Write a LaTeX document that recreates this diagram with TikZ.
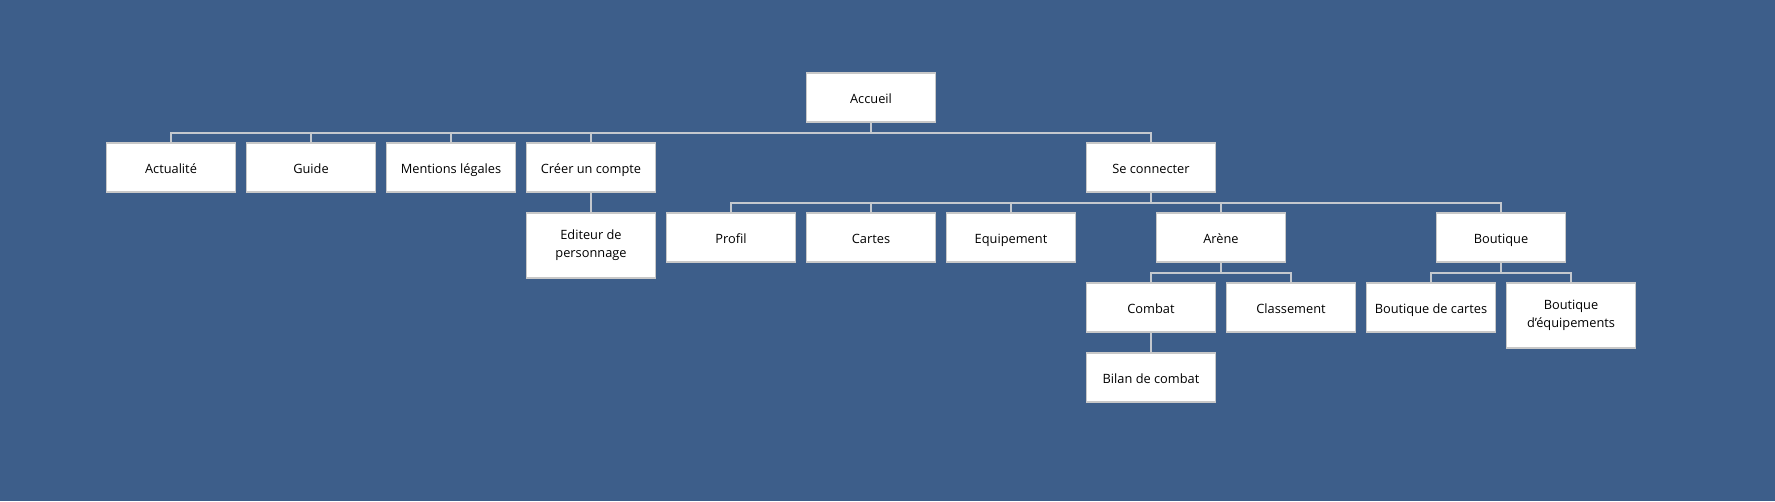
\documentclass[tikz,border=0pt]{standalone}
\usepackage{fontspec}
\setmainfont{Open Sans}
\usetikzlibrary{shadows}
\definecolor{bg}{HTML}{3D5E8A}
\definecolor{ln}{HTML}{C4C8CE}
\definecolor{bd}{HTML}{C8C8C8}
\newcommand{\mystrut}{\rule[-3.2pt]{0pt}{14.8pt}}
\newcommand{\mytallstrut}{\rule{0pt}{12.5pt}}
\tikzset{
  page/.style={draw=bd, line width=0.9pt, fill=white, minimum width=129*0.75pt, minimum height=49*0.75pt,
    inner sep=0pt, align=center, font=\fontsize{9.6pt}{15pt}\selectfont, text=black,
    execute at begin node=\mystrut,
    drop shadow={shadow xshift=0.6pt, shadow yshift=-1pt, opacity=0.25, fill=black}},
  tallpage/.style={page, minimum height=65*0.75pt, execute at begin node=\mytallstrut,
    font=\fontsize{9.6pt}{13.5pt}\selectfont},
  conn/.style={draw=ln, line width=0.8pt}
}
\begin{document}
\begin{tikzpicture}[x=0.75pt,y=-0.75pt]
\fill[bg] (0,0) rectangle (1775,501);
\useasboundingbox (0,0) rectangle (1775,501);
% row 1
\node[page] (acc) at (871,97.5) {Accueil};
% row 2
\node[page] (act) at (171,167.5) {Actualité};
\node[page] (gui) at (311,167.5) {Guide};
\node[page] (men) at (451,167.5) {Mentions légales};
\node[page] (cre) at (591,167.5) {Créer un compte};
\node[page] (sec) at (1151,167.5) {Se connecter};
% row 3
\node[tallpage] (edi) at (591,245.5) {Editeur de\\personnage};
\node[page] (pro) at (731,237.5) {Profil};
\node[page] (car) at (871,237.5) {Cartes};
\node[page] (equ) at (1011,237.5) {Equipement};
\node[page] (are) at (1221,237.5) {Arène};
\node[page] (bou) at (1501,237.5) {Boutique};
% row 4
\node[page] (com) at (1151,307.5) {Combat};
\node[page] (cla) at (1291,307.5) {Classement};
\node[page] (bca) at (1431,307.5) {Boutique de cartes};
\node[tallpage] (beq) at (1571,315.5) {Boutique\\d'équipements};
% row 5
\node[page] (bil) at (1151,377.5) {Bilan de combat};
% connectors
\coordinate (l1) at (0,133);
\foreach \c in {act,gui,men,cre,sec}
  \draw[conn] (acc.south) |- (l1 -| \c.north) -- (\c.north);
\draw[conn] (cre.south) -- (edi.north);
\coordinate (l2) at (0,203);
\foreach \c in {pro,car,equ,are,bou}
  \draw[conn] (sec.south) |- (l2 -| \c.north) -- (\c.north);
\coordinate (l3) at (0,273);
\foreach \c in {com,cla}
  \draw[conn] (are.south) |- (l3 -| \c.north) -- (\c.north);
\foreach \c in {bca,beq}
  \draw[conn] (bou.south) |- (l3 -| \c.north) -- (\c.north);
\draw[conn] (com.south) -- (bil.north);
\end{tikzpicture}
\end{document}
